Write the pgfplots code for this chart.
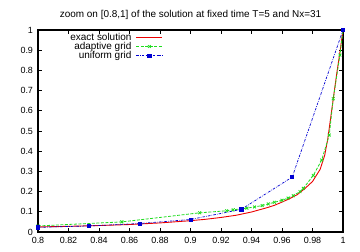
\documentclass[border=0pt]{standalone}
\usepackage{pgfplots}
\pgfplotsset{compat=1.18}
\usepackage{fontspec}
\setmainfont{Liberation Sans}
\usetikzlibrary{calc}
\definecolor{gred}{RGB}{235,0,0}
\definecolor{ggreen}{RGB}{30,220,30}
\definecolor{gblue}{RGB}{0,0,210}
\begin{document}
\begin{tikzpicture}
\begin{axis}[
  scale only axis,
  width=305bp, height=202bp,
  xmin=0.8, xmax=1, ymin=0, ymax=1,
  xtick={0.8,0.82,0.84,0.86,0.88,0.9,0.92,0.94,0.96,0.98,1},
  xticklabels={0.8,0.82,0.84,0.86,0.88,0.9,0.92,0.94,0.96,0.98,1},
  ytick={0,0.1,0.2,0.3,0.4,0.5,0.6,0.7,0.8,0.9,1},
  yticklabels={0,0.1,0.2,0.3,0.4,0.5,0.6,0.7,0.8,0.9,1},
  tick align=inside,
  major tick length=4bp,
  tick style={black, line width=0.8pt},
  axis line style={line width=1.3pt},
  ticklabel style={font=\fontsize{9}{10}\selectfont},
  xticklabel style={yshift=-1.5bp},
  yticklabel style={xshift=-1.5bp},
  /pgf/number format/assume math mode=true,
  title={zoom on [0.8,1] of the solution at fixed time T=5 and Nx=31},
  title style={font=\fontsize{10}{11}\selectfont, yshift=1bp},
  legend plot pos=right,
  legend cell align=right,
  legend style={at={(rel axis cs:0.41,0.985)}, anchor=north east, draw=none, fill=none,
    font=\fontsize{10}{10}\selectfont, row sep=0.5bp, column sep=4bp, inner sep=0bp,
    nodes={text height=6.5bp, text depth=1bp, inner sep=0.5bp}},
  legend image code/.code={\draw[#1] (0bp,0bp) -- (26bp,0bp); \path[#1] plot coordinates {(13bp,0bp)};},
]
\addlegendimage{draw=gred, line width=1pt}
\addlegendentry{exact solution}
\addlegendimage{draw=ggreen, line width=0.8pt, dash pattern=on 3bp off 1.5bp, mark=x, mark size=2bp, mark options={solid,draw=ggreen}}
\addlegendentry{adaptive grid}
\addlegendimage{draw=gblue, line width=0.7pt, dash pattern=on 2.5bp off 1.2bp on 0.6bp off 1.2bp, mark=square*, mark size=1.6bp, mark options={solid,draw=gblue,fill=gblue}}
\addlegendentry{uniform grid}
\addplot[color=gred, line width=0.9pt, forget plot] coordinates {
(0.80,0.025) (0.82,0.028) (0.84,0.032) (0.86,0.037) (0.88,0.045) (0.90,0.056)
(0.91,0.063) (0.92,0.072) (0.93,0.083) (0.94,0.099) (0.95,0.12) (0.955,0.132)
(0.96,0.148) (0.965,0.165) (0.97,0.185) (0.975,0.215) (0.98,0.25) (0.985,0.31)
(0.988,0.38) (0.990,0.46) (0.992,0.57) (0.994,0.68) (0.996,0.79) (0.998,0.89) (1.0,1.0)
};
\addplot[color=ggreen, line width=0.8pt, dash pattern=on 3bp off 1.5bp, mark=x, mark size=2bp, mark options={solid}, forget plot] coordinates {
(0.80,0.03) (0.855,0.05) (0.906,0.095) (0.9237,0.105) (0.928,0.11) (0.937,0.118)
(0.942,0.124) (0.947,0.131) (0.951,0.139) (0.955,0.147) (0.960,0.157) (0.964,0.168)
(0.9674,0.18) (0.9718,0.2) (0.974,0.216) (0.9805,0.28) (0.986,0.356) (0.991,0.48)
(0.9936,0.66) (0.998,0.876) (1.0,1.0)
};
\addplot[color=gblue, line width=0.7pt, dash pattern=on 2.5bp off 1.2bp on 0.6bp off 1.2bp, mark=square*, mark size=1.6bp, mark options={solid}, forget plot] coordinates {
(0.8,0.023) (0.8333,0.03) (0.8667,0.042) (0.9,0.062) (0.9333,0.112) (0.9667,0.272) (1.0,1.0)
};
\coordinate (ll) at (rel axis cs:0,0);
\coordinate (ur) at (rel axis cs:1,1);
\end{axis}
\pgfresetboundingbox
\path ($(ll)+(-38bp,-20bp)$) rectangle ($(ur)+(17bp,30bp)$);
\end{tikzpicture}
\end{document}
